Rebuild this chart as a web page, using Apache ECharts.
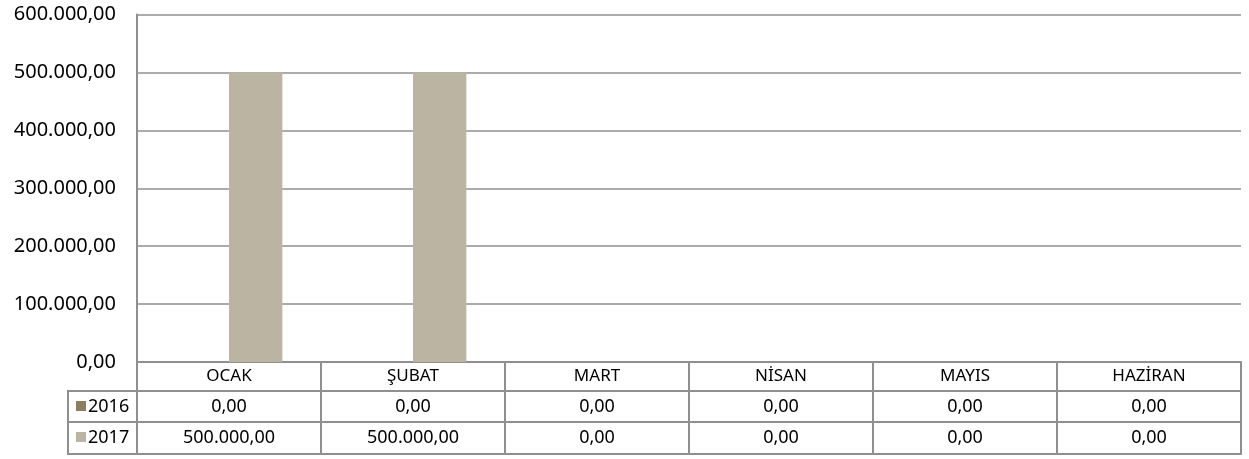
<!DOCTYPE html>
<html>
<head>
<meta charset="utf-8">
<script src="https://cdn.jsdelivr.net/npm/echarts@6/dist/echarts.min.js"></script>
<style>
  html, body { margin: 0; padding: 0; background: #fff; }
  #chart { width: 1249px; height: 459px; }
</style>
</head>
<body>
<div id="chart"></div>
<script>
// chart data
const months = ['OCAK', 'ŞUBAT', 'MART', 'NİSAN', 'MAYIS', 'HAZİRAN'];
const seriesNames = ['2016', '2017'];
const values2016 = [0, 0, 0, 0, 0, 0];
const values2017 = [500000, 500000, 0, 0, 0, 0];
const yTicks = [0, 100000, 200000, 300000, 400000, 500000, 600000];

const colors = ['#8b7e63', '#bbb4a3'];
const lineColor = '#8f8f8f';
const fontFamily = '"Noto Sans", "DejaVu Sans", sans-serif';

// turkish number format: 500.000,00
const fmt = (v) => {
  const parts = Number(v).toFixed(2).split('.');
  const intPart = parts[0].replace(/\B(?=(\d{3})+(?!\d))/g, '.');
  return intPart + ',' + parts[1];
};

const chart = echarts.init(document.getElementById('chart'));

const tableAxis = (data, offset, margin, tickLen, size) => ({
  type: 'category',
  gridIndex: 0,
  position: 'bottom',
  offset: offset,
  data: data,
  axisLine: { show: true, lineStyle: { color: lineColor, width: 2 } },
  axisTick: { show: tickLen > 0, interval: 0, length: tickLen, lineStyle: { color: lineColor, width: 2 } },
  axisLabel: {
    show: true,
    interval: 0,
    margin: margin,
    verticalAlign: 'middle',
    color: '#000',
    fontSize: size,
    fontFamily: fontFamily
  },
  splitLine: { show: false }
});

const rowY = [391, 422];
const legendGraphics = [
  {
    type: 'rect',
    shape: { x: 68, y: 391, width: 69, height: 63 },
    style: { fill: 'none', stroke: lineColor, lineWidth: 2 }
  },
  {
    type: 'line',
    shape: { x1: 68, y1: 422, x2: 137, y2: 422 },
    style: { stroke: lineColor, lineWidth: 2 }
  }
];
seriesNames.forEach((name, i) => {
  legendGraphics.push({
    type: 'rect',
    shape: { x: 76, y: rowY[i] + 10, width: 10, height: 10 },
    style: { fill: colors[i] }
  });
  legendGraphics.push({
    type: 'text',
    x: 88,
    y: rowY[i] + 15.5,
    style: {
      text: name,
      fill: '#000',
      fontSize: 18,
      fontFamily: fontFamily,
      verticalAlign: 'middle'
    }
  });
});

const option = {
  animation: false,
  grid: {
    left: 137,
    right: 8,
    top: 14.5,
    bottom: 97
  },
  xAxis: [
    tableAxis(months, 0, 14.5, 29, 17),
    tableAxis(values2016.map(fmt), 29, 15.5, 31, 18),
    tableAxis(values2017.map(fmt), 60, 16, 32, 18),
    Object.assign(tableAxis(months, 92, 0, 0, 18), { axisLabel: { show: false } })
  ],
  yAxis: {
    type: 'value',
    min: yTicks[0],
    max: yTicks[yTicks.length - 1],
    interval: yTicks[1] - yTicks[0],
    axisLine: { show: true, lineStyle: { color: lineColor, width: 2 } },
    axisTick: { show: false },
    axisLabel: {
      margin: 21,
      color: '#000',
      fontSize: 20,
      fontFamily: fontFamily,
      formatter: fmt
    },
    splitLine: { show: true, lineStyle: { color: lineColor, width: 1.5 } }
  },
  series: [
    {
      name: seriesNames[0],
      type: 'bar',
      xAxisIndex: 0,
      data: values2016,
      barGap: 0,
      barCategoryGap: '42%',
      itemStyle: { color: colors[0] }
    },
    {
      name: seriesNames[1],
      type: 'bar',
      xAxisIndex: 0,
      data: values2017,
      barGap: 0,
      barCategoryGap: '42%',
      itemStyle: { color: colors[1] }
    }
  ],
  graphic: legendGraphics
};

chart.setOption(option);
</script>
</body>
</html>
